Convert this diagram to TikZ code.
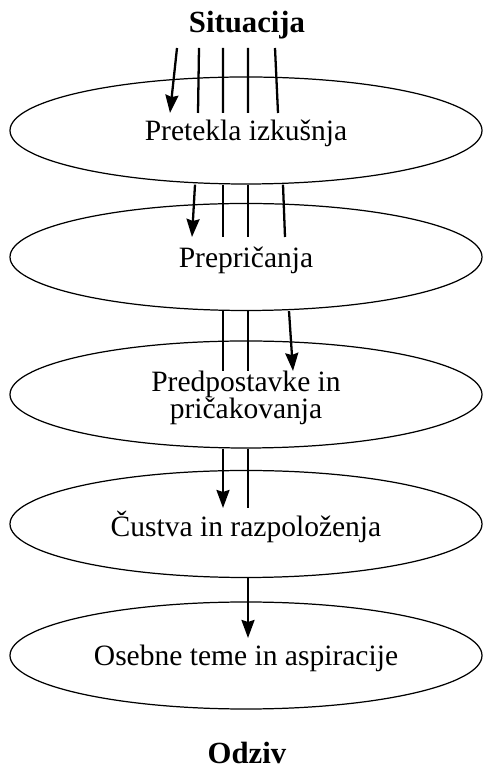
\documentclass[tikz,border=0pt]{standalone}
\usepackage{fontspec}
\setmainfont{Liberation Serif}
\usetikzlibrary{shapes.geometric,arrows.meta}

\begin{document}
\begin{tikzpicture}[
		level/.style = {ellipse, draw, line width = 0.7pt, minimum width = 9.44cm, minimum height = 2.14cm,
			inner sep = 0pt, text depth = 0pt, align = center, font = \fontsize{16.8}{15.5}\selectfont},
		title/.style = {anchor = base, inner sep = 0pt, font = \fontsize{17.5}{20}\selectfont\bfseries},
		strand/.style = {line width = 1.3pt},
		flow/.style = {strand, -{Stealth[length = 0.36cm, width = 0.26cm, inset = 0.04cm]}}]

		\useasboundingbox (0,0) rectangle (9.66,15.36);

		\node [title] (sit) at (4.94,14.70) {Situacija};
		\node [level] (past) at (4.92,12.75) {Pretekla izkušnja};
		\node [level] (belief) at (4.92,10.22) {Prepričanja};
		\node [level] (expect) at (4.92,7.47) {Predpostavke in\\pričakovanja};
		\node [level] (mood) at (4.92,4.88) {Čustva in razpoloženja};
		\node [level] (theme) at (4.92,2.25) {Osebne teme in aspiracije};
		\node [title] (resp) at (4.94,0.08) {Odziv};

		% one strand stops at every level, the rest go on
		\draw [flow] ([xshift = -1.40cm, yshift = -0.3cm]sit.base) -- ([xshift = -1.52cm, yshift = 0.35cm]past.center);
		\foreach \a/\b in {-0.96/-0.96, -0.48/-0.46, 0.02/0.04, 0.56/0.64}
			\draw [strand] ([xshift = \a cm, yshift = -0.3cm]sit.base) -- ([xshift = \b cm, yshift = 0.35cm]past.center);

		\draw [flow] ([xshift = -1.02cm]past.south) -- ([xshift = -1.08cm, yshift = 0.40cm]belief.center);
		\foreach \a/\b in {-0.46/-0.46, 0.04/0.04, 0.74/0.78}
			\draw [strand] ([xshift = \a cm]past.south) -- ([xshift = \b cm, yshift = 0.40cm]belief.center);

		\draw [flow] ([xshift = 0.86cm]belief.south) -- ([xshift = 0.94cm, yshift = 0.47cm]expect.center);
		\foreach \a in {-0.46, 0.04}
			\draw [strand] ([xshift = \a cm]belief.south) -- ([xshift = \a cm, yshift = 0.47cm]expect.center);

		\draw [flow] ([xshift = -0.46cm]expect.south) -- ([xshift = -0.46cm, yshift = 0.32cm]mood.center);
		\draw [strand] ([xshift = 0.04cm]expect.south) -- ([xshift = 0.04cm, yshift = 0.32cm]mood.center);

		\draw [flow] ([xshift = 0.04cm]mood.south) -- ([xshift = 0.04cm, yshift = 0.35cm]theme.center);

		\end{tikzpicture}
\end{document}
